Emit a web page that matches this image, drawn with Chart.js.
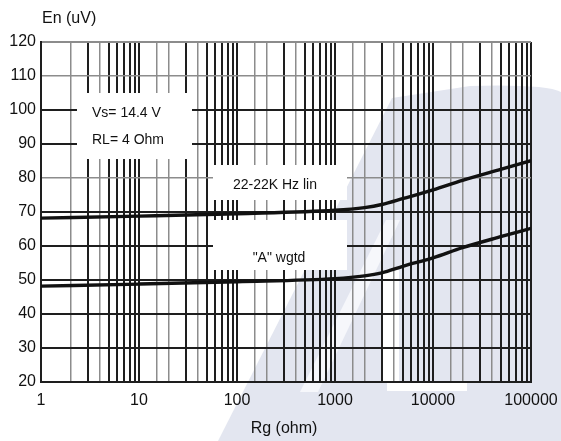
<!DOCTYPE html>
<html>
<head>
<meta charset="utf-8">
<script src="https://cdn.jsdelivr.net/npm/chart.js@4.4.1/dist/chart.umd.min.js"></script>
<style>
  html, body { margin: 0; padding: 0; background: #ffffff; }
  #wrap { width: 561px; height: 441px; }
</style>
</head>
<body>
<div id="wrap"><canvas id="c" width="561" height="441"></canvas></div>
<script>
// ---- data ----
const rgValues   = [1, 10, 100, 1000, 2000, 3000, 5000, 10000, 20000, 50000, 100000];
const linValues  = [68.2, 68.8, 69.5, 70.5, 71.3, 72.2, 74.0, 76.5, 79.3, 82.6, 85.1];
const wgtdValues = [48.2, 48.8, 49.5, 50.4, 51.2, 52.1, 54.1, 56.5, 59.5, 62.8, 65.2];
const seriesNames = ['22-22K Hz lin', '"A" wgtd'];
const xTickLabels = ['1', '10', '100', '1000', '10000', '100000'];
const yTicks = [20, 30, 40, 50, 60, 70, 80, 90, 100, 110, 120];
const yTitle = 'En (uV)';
const xTitle = 'Rg (ohm)';
const noteLines = ['Vs= 14.4 V', 'RL= 4 Ohm'];

const FONT = '"Liberation Sans", Arial, sans-serif';
const DARK = '#1e1e1e';
const GRAY = '#8c8c8c';

function toPoints(ys) { return rgValues.map((x, i) => ({ x: x, y: ys[i] })); }

const bgPlugin = {
  id: 'bg',
  beforeDraw(chart) {
    const ctx = chart.ctx;
    ctx.save();
    ctx.fillStyle = '#ffffff';
    ctx.fillRect(0, 0, chart.width, chart.height);
    // faint watermark logo
    ctx.fillStyle = '#e3e6f0';
    ctx.beginPath();
    ctx.moveTo(218, 441);
    ctx.lineTo(561, 441);
    ctx.lineTo(561, 92);
    ctx.quadraticCurveTo(545, 84, 470, 86);
    ctx.lineTo(392, 98);
    ctx.closePath();
    ctx.fill();
    ctx.fillStyle = '#f6f7fb';
    ctx.beginPath();
    ctx.moveTo(300, 392);
    ctx.lineTo(318, 392);
    ctx.lineTo(400, 220);
    ctx.lineTo(386, 220);
    ctx.closePath();
    ctx.fill();
    ctx.fillStyle = '#ffffff';
    ctx.fillRect(383, 270, 16, 112);
    ctx.fillRect(387, 382, 80, 9);
    ctx.restore();
  }
};

const labelPlugin = {
  id: 'labels',
  beforeDatasetsDraw(chart) {
    const ctx = chart.ctx;
    ctx.save();
    // white boxes that interrupt the grid behind the text
    ctx.fillStyle = '#ffffff';
    ctx.fillRect(77, 93, 115, 66);
    ctx.fillRect(213, 165, 134, 35);
    ctx.fillRect(213, 220, 134, 50);
    ctx.fillStyle = '#111111';
    ctx.textBaseline = 'middle';
    ctx.textAlign = 'left';
    ctx.font = '14px ' + FONT;
    ctx.fillText(noteLines[0], 92, 113);
    ctx.fillText(noteLines[1], 92, 140);
    ctx.textAlign = 'center';
    ctx.fillText(seriesNames[0], 275, 185);
    ctx.fillText(seriesNames[1], 279, 258);
    ctx.restore();
  },
  afterDraw(chart) {
    const ctx = chart.ctx;
    const ca = chart.chartArea;
    ctx.save();
    ctx.fillStyle = '#111111';
    ctx.font = '16px ' + FONT;
    ctx.textBaseline = 'middle';
    ctx.textAlign = 'left';
    ctx.fillText(yTitle, ca.left + 1, 19);
    ctx.textAlign = 'center';
    ctx.fillText(xTitle, 284, 429);
    ctx.restore();
  }
};

function isPow10(v) {
  const l = Math.log10(v);
  return Math.abs(l - Math.round(l)) < 1e-9;
}
function mantissa(v) {
  return Math.round(v / Math.pow(10, Math.floor(Math.log10(v) + 1e-9)));
}

new Chart(document.getElementById('c'), {
  type: 'line',
  data: {
    datasets: [
      { label: seriesNames[0], data: toPoints(linValues), borderColor: '#111', borderWidth: 3.4,
        pointRadius: 0, cubicInterpolationMode: 'monotone', fill: false },
      { label: seriesNames[1], data: toPoints(wgtdValues), borderColor: '#111', borderWidth: 3.4,
        pointRadius: 0, cubicInterpolationMode: 'monotone', fill: false }
    ]
  },
  options: {
    responsive: false,
    animation: false,
    devicePixelRatio: 1,
    layout: { padding: { left: 0, top: 42, right: 30, bottom: 0 } },
    plugins: { legend: { display: false }, tooltip: { enabled: false }, title: { display: false } },
    scales: {
      x: {
        type: 'logarithmic',
        min: 1, max: 100000,
        afterFit(scale) { scale.height = 59; scale.paddingRight = 0; scale.paddingLeft = 0; },
        border: { color: DARK, width: 2 },
        grid: {
          drawTicks: false,
          color(ctx) {
            const v = ctx.tick && ctx.tick.value;
            if (!v) return DARK;
            if (isPow10(v)) return DARK;
            const m = mantissa(v);
            return (m === 2 || m === 4) ? GRAY : DARK;
          },
          lineWidth(ctx) {
            const v = ctx.tick && ctx.tick.value;
            if (!v) return 2;
            const m = mantissa(v);
            return (!isPow10(v) && (m === 2 || m === 4)) ? 1.5 : 2;
          }
        },
        ticks: {
          autoSkip: false, maxRotation: 0, minRotation: 0, padding: 9,
          color: '#111', font: { family: FONT, size: 16 },
          callback(value) {
            const s = String(Math.round(value));
            return (isPow10(value) && xTickLabels.includes(s)) ? s : '';
          }
        }
      },
      y: {
        type: 'linear',
        min: yTicks[0], max: yTicks[yTicks.length - 1],
        afterFit(scale) { scale.width = 41; },
        afterBuildTicks(scale) { scale.ticks = yTicks.map(v => ({ value: v })); },
        border: { color: DARK, width: 2 },
        grid: {
          drawTicks: false,
          color(ctx) {
            const v = ctx.tick && ctx.tick.value;
            return (v === 110 || v === 80 || v === 120) ? GRAY : DARK;
          },
          lineWidth(ctx) {
            const v = ctx.tick && ctx.tick.value;
            return (v === 110 || v === 80) ? 1.5 : 2;
          }
        },
        ticks: {
          padding: 5, color: '#111', font: { family: FONT, size: 16 },
          callback(value) { return String(value); }
        }
      }
    }
  },
  plugins: [bgPlugin, labelPlugin]
});
</script>
</body>
</html>
